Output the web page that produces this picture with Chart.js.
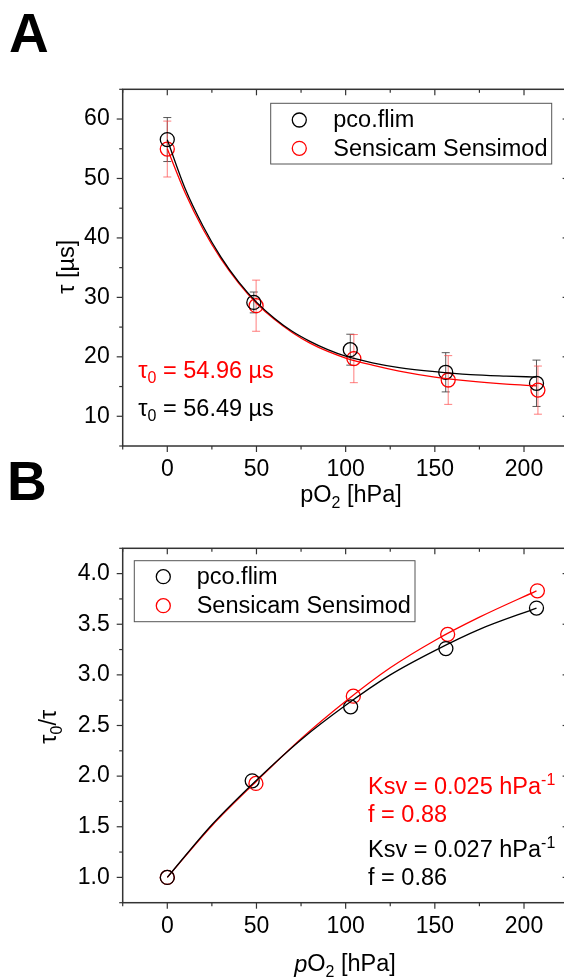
<!DOCTYPE html>
<html><head><meta charset="utf-8">
<script src="https://cdn.jsdelivr.net/npm/chart.js@4/dist/chart.umd.min.js"></script>
<style>
html,body{margin:0;padding:0;overflow:hidden;background:#fff;width:564px;height:977px;}
canvas{position:absolute;left:0;}
#cA{top:0}
#cB{top:510px}
</style></head><body>
<canvas id="cA" width="580" height="510"></canvas>
<canvas id="cB" width="580" height="467"></canvas>
<script>
// ---------- data ----------
const xTicks = [0, 50, 100, 150, 200];
const yTicksA = [10, 20, 30, 40, 50, 60];
const yTicksB = [1.0, 1.5, 2.0, 2.5, 3.0, 3.5, 4.0];

const seriesNames = ['pco.flim', 'Sensicam Sensimod'];

// Panel A: lifetime tau [µs] vs pO2
const pcoX_A = [0, 48.5, 102.6, 156.1, 207.0];
const pcoTau = [56.55, 29.15, 21.2, 17.4, 15.55];
const pcoTauErr = [3.7, 1.75, 2.6, 3.3, 3.9];
const sensX_A = [0, 49.8, 104.6, 157.5, 207.8];
const sensTau = [54.95, 28.6, 19.7, 16.1, 14.4];
const sensTauErr = [4.7, 4.3, 4.05, 4.1, 4.05];

const fitX_A = [0, 10, 20, 30, 40, 50, 60, 70, 80, 90, 100, 115, 130, 150, 170, 190, 207];
const pcoFitA = [56.5, 48.3, 42.0, 36.8, 32.6, 29.2, 26.5, 24.3, 22.6, 21.2, 20.1, 19.0, 18.2, 17.5, 17.0, 16.75, 16.6];
const sensFitA = [55.0, 47.6, 41.5, 36.5, 32.4, 29.0, 26.3, 24.1, 22.3, 20.9, 19.8, 18.6, 17.6, 16.6, 15.9, 15.4, 15.1];

// Panel B: tau0/tau vs pO2
const pcoX_B = [0, 47.6, 102.8, 156.2, 207.0];
const pcoRatio = [1.0, 1.954, 2.684, 3.26, 3.66];
const sensX_B = [0, 49.7, 104.3, 157.2, 207.5];
const sensRatio = [1.0, 1.928, 2.79, 3.40, 3.83];

const fitX_B = [0, 25, 50, 75, 100, 125, 150, 175, 207];
const pcoFitB = [1.00, 1.52, 1.96, 2.36, 2.70, 3.00, 3.24, 3.45, 3.66];
const sensFitB = [1.00, 1.51, 1.95, 2.37, 2.74, 3.07, 3.34, 3.57, 3.83];

// ---------- helpers ----------
const FONT = "'Liberation Sans', Arial, sans-serif";
const TXT = 23.5;
const BLACK = '#000000';
const RED = '#ff0000';
const pts = (xs, ys) => xs.map((x, i) => ({x: x, y: ys[i]}));

function drawRich(ctx, parts, x, y, size, color, align) {
  ctx.save();
  ctx.fillStyle = color;
  ctx.textBaseline = 'middle';
  ctx.textAlign = 'left';
  let total = 0;
  const widths = parts.map(p => {
    const s = p.mode === 'n' || !p.mode ? size : size * 0.68;
    ctx.font = (p.italic ? 'italic ' : '') + s + 'px ' + FONT;
    const w = ctx.measureText(p.t).width;
    total += w;
    return w;
  });
  let cx = align === 'center' ? x - total / 2 : x;
  parts.forEach((p, i) => {
    const small = p.mode === 'sub' || p.mode === 'sup';
    const s = small ? size * 0.68 : size;
    ctx.font = (p.italic ? 'italic ' : '') + s + 'px ' + FONT;
    let dy = 0;
    if (p.mode === 'sub') dy = size * 0.32;
    if (p.mode === 'sup') dy = -size * 0.3;
    ctx.fillText(p.t, cx, y + dy);
    cx += widths[i];
  });
  ctx.restore();
}

const framePlugin = {
  id: 'frame',
  beforeDatasetsDraw(chart) {
    const ctx = chart.ctx, xs = chart.scales.x, ys = chart.scales.y;
    ctx.save();
    chart.data.datasets.forEach(ds => {
      if (!ds.errors) return;
      ctx.strokeStyle = ds.errColor;
      ctx.lineWidth = 1;
      ds.data.forEach((p, i) => {
        const px = xs.getPixelForValue(p.x);
        const top = ys.getPixelForValue(p.y + ds.errors[i]);
        const bot = ys.getPixelForValue(p.y - ds.errors[i]);
        ctx.beginPath();
        ctx.moveTo(px, top); ctx.lineTo(px, bot);
        ctx.moveTo(px - 4, top); ctx.lineTo(px + 4, top);
        ctx.moveTo(px - 4, bot); ctx.lineTo(px + 4, bot);
        ctx.stroke();
      });
    });
    ctx.restore();
  },
  afterDraw(chart, args, opts) {
    const ctx = chart.ctx, a = chart.chartArea;
    const xs = chart.scales.x, ys = chart.scales.y;
    ctx.save();
    ctx.strokeStyle = '#333';
    ctx.lineWidth = 1.5;
    ctx.strokeRect(a.left, a.top, a.right - a.left, a.bottom - a.top);
    ctx.lineWidth = 1.2;
    const MAJ = 6, MIN = 3.5;
    const tick = (x1, y1, x2, y2) => { ctx.beginPath(); ctx.moveTo(x1, y1); ctx.lineTo(x2, y2); ctx.stroke(); };
    for (let v = xs.min; v <= xs.max + 1e-9; v += opts.xMinor) {
      const major = xs.ticks.some(t => Math.abs(t.value - v) < 1e-6);
      const L = major ? MAJ : MIN;
      const px = xs.getPixelForValue(v);
      tick(px, a.bottom, px, a.bottom + L);
      tick(px, a.top, px, a.top + L);
    }
    for (let v = ys.min; v <= ys.max + 1e-9; v += opts.yMinor) {
      const major = ys.ticks.some(t => Math.abs(t.value - v) < 1e-6);
      const L = major ? MAJ : MIN;
      const py = ys.getPixelForValue(v);
      tick(a.left, py, a.left - L, py);
      tick(a.right, py, a.right - L, py);
    }
    ctx.restore();

    // legend
    const lg = opts.legend;
    ctx.save();
    ctx.strokeStyle = '#555';
    ctx.lineWidth = 1;
    ctx.fillStyle = '#fff';
    ctx.fillRect(lg.x0, lg.y0, lg.x1 - lg.x0, lg.y1 - lg.y0);
    ctx.strokeRect(lg.x0, lg.y0, lg.x1 - lg.x0, lg.y1 - lg.y0);
    const pointSets = chart.data.datasets.filter(d => d.inLegend);
    pointSets.forEach((d, i) => {
      const yy = lg.rows[i];
      ctx.beginPath();
      ctx.strokeStyle = d.borderColor;
      ctx.lineWidth = 1.3;
      ctx.arc(lg.mx, yy, 7, 0, Math.PI * 2);
      ctx.stroke();
      ctx.fillStyle = '#000';
      ctx.font = TXT + 'px ' + FONT;
      ctx.textBaseline = 'middle';
      ctx.textAlign = 'left';
      ctx.fillText(d.label, lg.tx, yy + 1);
    });
    ctx.restore();

    (opts.texts || []).forEach(t => drawRich(ctx, t.parts, t.x, t.y, t.size, t.color, t.align));
    (opts.vtexts || []).forEach(t => {
      ctx.save();
      ctx.translate(t.x, t.y);
      ctx.rotate(-Math.PI / 2);
      drawRich(ctx, t.parts, 0, 0, t.size, t.color, 'center');
      ctx.restore();
    });
    (opts.letters || []).forEach(t => {
      ctx.save();
      ctx.font = 'bold 55px ' + FONT;
      ctx.fillStyle = '#000';
      ctx.textBaseline = 'alphabetic';
      ctx.fillText(t.t, t.x, t.y);
      ctx.restore();
    });
  }
};

function axisCfg(min, max, tickVals, fit, isY, fmt) {
  return {
    type: 'linear', min: min, max: max,
    grid: {display: false, drawTicks: false},
    border: {display: false},
    afterBuildTicks: s => { s.ticks = tickVals.map(v => ({value: v})); },
    afterFit: s => { if (isY) s.width = fit; else s.height = fit; },
    ticks: {
      padding: isY ? 13 : 10,
      color: '#000',
      autoSkip: false, maxRotation: 0,
      font: {family: FONT, size: 23},
      callback: fmt || (v => String(v))
    }
  };
}

function pointDs(label, data, color, errs, errColor) {
  return {
    label: label, data: data, inLegend: true,
    borderColor: color, backgroundColor: 'rgba(0,0,0,0)',
    pointRadius: 7, pointBorderWidth: 1.3, pointBackgroundColor: 'rgba(0,0,0,0)',
    pointBorderColor: color, showLine: false,
    errors: errs, errColor: errColor
  };
}
function fitDs(label, data, color) {
  return {
    label: label, data: data, showLine: true, pointRadius: 0,
    borderColor: color, borderWidth: 1.3, cubicInterpolationMode: 'monotone', fill: false
  };
}

// ---------- Panel A ----------
new Chart(document.getElementById('cA'), {
  type: 'scatter',
  data: {
    datasets: [
      fitDs('pco.flim fit', pts(fitX_A, pcoFitA), BLACK),
      fitDs('Sensicam Sensimod fit', pts(fitX_A, sensFitA), RED),
      pointDs(seriesNames[0], pts(pcoX_A, pcoTau), BLACK, pcoTauErr, 'rgba(60,60,60,0.85)'),
      pointDs(seriesNames[1], pts(sensX_A, sensTau), RED, sensTauErr, 'rgba(255,70,70,0.7)')
    ]
  },
  options: {
    responsive: false, animation: false,
    layout: {padding: {top: 89.3, right: 11.4, left: 0, bottom: 0}},
    plugins: {
      legend: {display: false}, tooltip: {enabled: false},
      frame: {
        xMinor: 25, yMinor: 5,
        legend: {x0: 270.7, y0: 103.3, x1: 551.7, y1: 164, mx: 299.3, tx: 333.3, rows: [120, 148.3]},
        texts: [
          {parts: [{t: 'τ'}, {t: '0', mode: 'sub'}, {t: ' = 54.96 µs'}], x: 138.3, y: 371.5, size: TXT, color: RED},
          {parts: [{t: 'τ'}, {t: '0', mode: 'sub'}, {t: ' = 56.49 µs'}], x: 138.3, y: 409.5, size: TXT, color: BLACK},
          {parts: [{t: 'pO'}, {t: '2', mode: 'sub'}, {t: ' [hPa]'}], x: 351, y: 496, size: TXT, color: BLACK, align: 'center'}
        ],
        vtexts: [
          {parts: [{t: 'τ [µs]'}], x: 68, y: 266.7, size: TXT, color: BLACK}
        ],
        letters: [{t: 'A', x: 9, y: 52}, {t: 'B', x: 7, y: 499.5}]
      }
    },
    scales: {
      x: axisCfg(-25, 225, xTicks, 64, false),
      y: axisCfg(5, 65, yTicksA, 122.7, true)
    }
  },
  plugins: [framePlugin]
});

// ---------- Panel B ----------
new Chart(document.getElementById('cB'), {
  type: 'scatter',
  data: {
    datasets: [
      fitDs('pco.flim fit', pts(fitX_B, pcoFitB), BLACK),
      fitDs('Sensicam Sensimod fit', pts(fitX_B, sensFitB), RED),
      pointDs(seriesNames[0], pts(pcoX_B, pcoRatio), BLACK),
      pointDs(seriesNames[1], pts(sensX_B, sensRatio), RED)
    ]
  },
  options: {
    responsive: false, animation: false,
    layout: {padding: {top: 38.3, right: 11.4, left: 0, bottom: 0}},
    plugins: {
      legend: {display: false}, tooltip: {enabled: false},
      frame: {
        xMinor: 25, yMinor: 0.25,
        legend: {x0: 134.3, y0: 50.7, x1: 415, y1: 111.7, mx: 163.3, tx: 196.7, rows: [66.7, 95.7]},
        texts: [
          {parts: [{t: 'Ksv = 0.025 hPa'}, {t: '-1', mode: 'sup'}], x: 368, y: 278, size: TXT, color: RED},
          {parts: [{t: 'f = 0.88'}], x: 368, y: 306, size: TXT, color: RED},
          {parts: [{t: 'Ksv = 0.027 hPa'}, {t: '-1', mode: 'sup'}], x: 368, y: 340.7, size: TXT, color: BLACK},
          {parts: [{t: 'f = 0.86'}], x: 368, y: 369, size: TXT, color: BLACK},
          {parts: [{t: 'p', italic: true}, {t: 'O'}, {t: '2', mode: 'sub'}, {t: ' [hPa]'}], x: 345, y: 455, size: TXT, color: BLACK, align: 'center'}
        ],
        vtexts: [
          {parts: [{t: 'τ'}, {t: '0', mode: 'sub'}, {t: '/τ'}], x: 50, y: 216.7, size: TXT, color: BLACK}
        ]
      }
    },
    scales: {
      x: axisCfg(-25, 225, xTicks, 74.3, false),
      y: axisCfg(0.75, 4.25, yTicksB, 122.7, true, v => v.toFixed(1))
    }
  },
  plugins: [framePlugin]
});
</script>
</body></html>
